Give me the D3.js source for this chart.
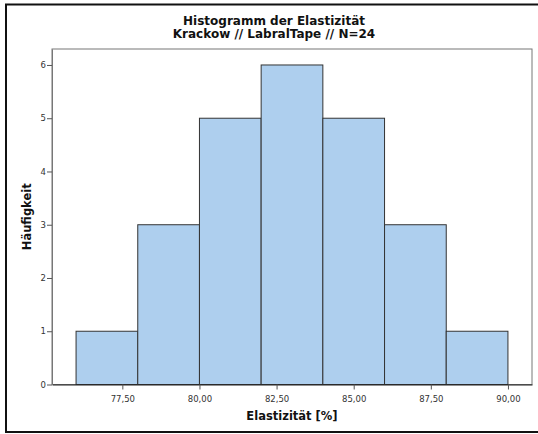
<!DOCTYPE html>
<html>
<head>
<meta charset="utf-8">
<script src="https://cdn.jsdelivr.net/npm/d3@7"></script>
<style>
  body { margin: 0; background: #fff; }
  text { font-family: "DejaVu Sans", sans-serif; }
</style>
</head>
<body>
<div id="chart"></div>
<script>
// bins of width 2 (lower edge) and their counts
var binStarts = [76, 78, 80, 82, 84, 86, 88]
var binWidth = 2
var counts = [1, 3, 5, 6, 5, 3, 1]
var xTicks = [77.5, 80, 82.5, 85, 87.5, 90]
var yTicks = [0, 1, 2, 3, 4, 5, 6]

var W = 538, H = 434
var plot = {left: 52, top: 49, right: 532, bottom: 384.5}

var svg = d3.select("#chart").append("svg")
  .attr("width", W)
  .attr("height", H)

// outer frame
svg.append("rect")
  .attr("x", 6).attr("y", 4.5)
  .attr("width", 540).attr("height", 427.5)
  .style("fill", "none")
  .style("stroke", "#111")
  .style("stroke-width", 2)

var x = d3.scaleLinear()
  .domain([75.22, 90.78])
  .range([plot.left, plot.right])

var y = d3.scaleLinear()
  .domain([0, 6.3])
  .range([plot.bottom, plot.top])

// plot frame
svg.append("rect")
  .attr("x", plot.left).attr("y", plot.top)
  .attr("width", plot.right - plot.left)
  .attr("height", plot.bottom - plot.top)
  .style("fill", "#fff")
  .style("stroke", "#777")
  .style("stroke-width", 1)

// bars
svg.selectAll(".bar")
  .data(binStarts)
  .enter().append("rect")
    .attr("class", "bar")
    .attr("x", function(d) { return x(d) })
    .attr("width", function(d) { return x(d + binWidth) - x(d) })
    .attr("y", function(d, i) { return y(counts[i]) })
    .attr("height", function(d, i) { return y(0) - y(counts[i]) })
    .style("fill", "#aecfee")
    .style("stroke", "#333")
    .style("stroke-width", 1)

// axes
var fmt = function(d) { return d.toFixed(2).replace(".", ",") }

var xAxis = svg.append("g")
  .attr("transform", "translate(0," + plot.bottom + ")")
  .call(d3.axisBottom(x).tickValues(xTicks).tickFormat(fmt).tickSize(5).tickSizeOuter(0))
var yAxis = svg.append("g")
  .attr("transform", "translate(" + plot.left + ",0)")
  .call(d3.axisLeft(y).tickValues(yTicks).tickFormat(d3.format("d")).tickSize(5).tickSizeOuter(0))

xAxis.select(".domain").style("stroke", "#222")
yAxis.select(".domain").style("stroke", "#777")
svg.selectAll(".tick line").style("stroke", "#555")
svg.selectAll(".tick text")
  .style("font-family", "DejaVu Sans, sans-serif")
  .style("font-size", "8.5px")
  .style("fill", "#333")
xAxis.selectAll(".tick text").attr("dy", "1.1em")
yAxis.selectAll(".tick text").attr("x", -6)

// titles
svg.append("text")
  .attr("x", 274).attr("y", 25)
  .style("text-anchor", "middle")
  .style("font-weight", "bold")
  .style("font-size", "12px")
  .style("fill", "#111")
  .text("Histogramm der Elastizität")
svg.append("text")
  .attr("x", 274).attr("y", 37.5)
  .style("text-anchor", "middle")
  .style("font-weight", "bold")
  .style("font-size", "12px")
  .style("fill", "#111")
  .text("Krackow // LabralTape // N=24")

svg.append("text")
  .attr("x", (plot.left + plot.right) / 2).attr("y", 420)
  .style("text-anchor", "middle")
  .style("font-weight", "bold")
  .style("font-size", "11.5px")
  .style("fill", "#111")
  .text("Elastizität [%]")

svg.append("text")
  .attr("transform", "translate(31," + ((plot.top + plot.bottom) / 2) + ") rotate(-90)")
  .style("text-anchor", "middle")
  .style("font-weight", "bold")
  .style("font-size", "11.5px")
  .style("fill", "#111")
  .text("Häufigkeit")
</script>
</body>
</html>
